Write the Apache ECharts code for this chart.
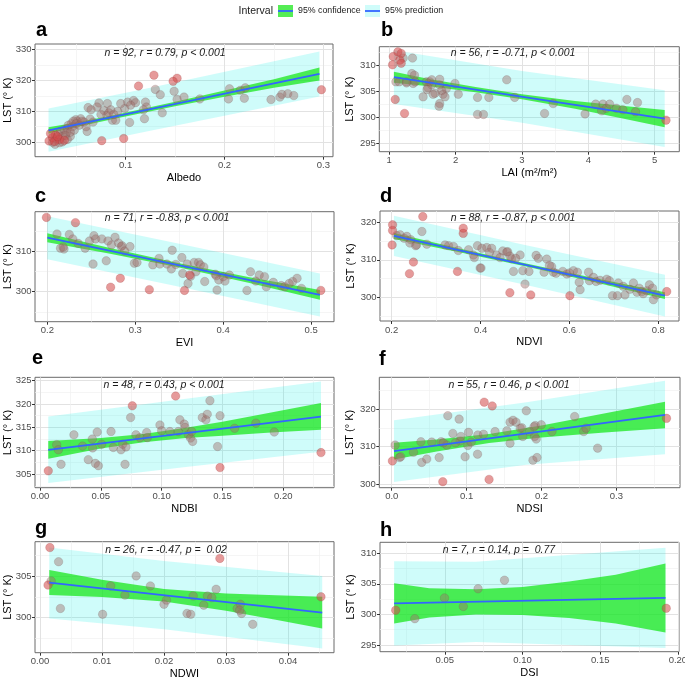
<!DOCTYPE html>
<html><head><meta charset="utf-8">
<script src="https://cdn.jsdelivr.net/npm/echarts@6/dist/echarts.min.js"></script>
<style>html,body{margin:0;padding:0;background:#fff}#c{width:685px;height:679px}</style>
</head><body><div id="c"></div>
<script>
// ---------------- DATA ----------------
// panel a : Albedo
const aGrey = [[0.0286,299.3],[0.036,300.1],[0.041,300.9],[0.044,301.9],[0.048,303.9],[0.041,304.4],[0.045,306.0],[0.051,306.8],[0.0545,307.6],[0.0495,307.3],[0.058,306.5],[0.061,303.5],[0.062,311.2],[0.073,312.7],[0.071,311.4],[0.078,310.3],[0.0815,312.5],[0.081,308.7],[0.085,310.5],[0.0866,307.1],[0.090,307.1],[0.092,310.0],[0.099,310.9],[0.102,313.0],[0.104,306.4],[0.108,313.5],[0.120,313.0],[0.121,311.4],[0.119,307.6],[0.130,317.1],[0.135,315.4],[0.137,309.5],[0.149,316.5],[0.152,313.9],[0.159,314.6],[0.175,314.0],[0.205,317.3],[0.204,314.0],[0.216,316.8],[0.221,317.6],[0.220,314.2],[0.247,313.8],[0.256,314.6],[0.258,315.5],[0.264,315.7],[0.270,315.1],[0.030,301.0],[0.032,302.5],[0.034,303.5],[0.036,302.0],[0.038,304.0],[0.040,303.0],[0.042,305.5],[0.046,305.0],[0.047,306.8],[0.050,306.0],[0.053,305.5],[0.056,306.8],[0.064,307.5],[0.067,306.5],[0.065,310.5],[0.075,309.0],[0.083,309.5],[0.095,312.5],[0.110,312.8],[0.118,310.5],[0.026,300.0],[0.033,299.8],[0.039,302.2],[0.044,303.2],[0.105,312.0],[0.088,309.0],[0.060,305.0]];
const aRed = [[0.0225,300.4],[0.026,301.5],[0.029,302.3],[0.033,300.9],[0.038,300.6],[0.024,302.8],[0.028,300.2],[0.031,301.8],[0.0758,300.5],[0.098,301.2],[0.113,318.2],[0.1286,321.7],[0.152,320.7],[0.148,319.7],[0.298,317.0]];
const aLine = [[0.022,303.8],[0.296,322.1]];
const aConf = [[0.022,302.8,304.8],[0.05,304.9,306.4],[0.09,307.7,308.9],[0.15,311.6,313.1],[0.2,314.7,316.7],[0.25,317.6,320.4],[0.296,320.0,324.2]];
const aPred = [[0.022,296.9,310.9],[0.12,303.4,317.3],[0.296,314.8,329.4]];
const aXTicks = ['0.1','0.2','0.3'];
const aYTicks = ['300','310','320','330'];

// panel b : LAI
const bGrey = [[1.21,311.4],[1.35,311.4],[1.34,308.4],[1.38,308.1],[1.10,306.8],[1.15,306.8],[1.26,306.8],[1.36,306.5],[1.26,306.6],[1.39,306.8],[1.56,306.8],[1.61,306.8],[1.64,307.2],[1.76,307.3],[1.64,306.2],[1.58,305.7],[1.57,305.3],[1.76,306.2],[1.86,305.5],[1.99,306.5],[1.79,305.1],[1.69,304.6],[1.66,304.4],[1.81,304.4],[1.84,303.9],[1.51,303.9],[2.04,304.4],[1.76,302.6],[1.75,302.1],[2.33,303.8],[2.50,303.8],[2.77,307.2],[2.89,303.8],[2.33,300.5],[2.42,300.5],[3.34,300.7],[3.47,302.6],[3.95,300.6],[4.11,302.5],[4.20,301.2],[4.22,302.5],[4.27,301.7],[4.32,302.5],[4.42,301.7],[4.52,301.4],[4.58,303.4],[4.71,301.0],[4.74,302.8]];
const bRed = [[1.06,311.7],[1.05,310.1],[1.13,312.6],[1.18,312.3],[1.16,311.0],[1.18,310.4],[1.09,303.4],[1.23,300.7],[5.17,299.4]];
const bLine = [[1.07,307.7],[5.15,299.7]];
const bConf = [[1.07,306.65,308.75],[1.6,305.96,307.36],[2.3,304.79,305.79],[3.0,303.42,304.42],[3.8,301.6,303.1],[4.5,299.77,302.17],[5.15,298.05,301.35]];
const bPred = [[1.07,302.5,312.9],[3.0,298.9,308.9],[5.15,294.2,305.2]];
const bXTicks = ['1','2','3','4','5'];
const bYTicks = ['295','300','305','310'];

// panel c : EVI
const cGrey = [[0.211,314.2],[0.225,314.1],[0.215,310.7],[0.235,311.9],[0.243,310.7],[0.248,312.5],[0.253,313.8],[0.255,313.0],[0.262,313.0],[0.269,312.5],[0.277,313.4],[0.273,311.5],[0.284,311.1],[0.285,311.3],[0.288,310.0],[0.294,311.1],[0.252,306.8],[0.267,307.6],[0.299,307.0],[0.302,307.2],[0.320,306.6],[0.327,308.2],[0.328,306.8],[0.342,310.2],[0.341,305.6],[0.346,306.7],[0.353,308.4],[0.354,304.5],[0.359,306.8],[0.360,302.0],[0.367,307.2],[0.372,307.2],[0.369,304.9],[0.374,306.6],[0.378,306.1],[0.379,302.5],[0.391,304.3],[0.393,300.4],[0.395,302.9],[0.400,303.7],[0.407,304.1],[0.427,300.3],[0.431,304.9],[0.437,302.6],[0.441,304.1],[0.447,303.7],[0.449,301.2],[0.457,302.3],[0.466,301.5],[0.470,301.2],[0.479,302.5],[0.484,303.3],[0.489,300.8],[0.219,310.5],[0.229,313.0],[0.281,312.0],[0.363,303.8],[0.336,306.8],[0.402,302.6],[0.475,302.0],[0.218,311.0],[0.392,303.9]];
const cRed = [[0.199,318.3],[0.232,317.0],[0.272,301.1],[0.283,303.3],[0.316,300.5],[0.356,300.3],[0.511,300.3],[0.362,304.1]];
const cLine = [[0.2,313.3],[0.51,299.2]];
const cConf = [[0.2,312.2,314.4],[0.27,309.42,310.82],[0.35,305.98,306.98],[0.43,302.14,303.54],[0.51,298.0,300.4]];
const cPred = [[0.2,308.0,318.6],[0.35,301.2,311.8],[0.51,293.9,304.5]];
const cXTicks = ['0.2','0.3','0.4','0.5'];
const cYTicks = ['300','310'];

// panel d : NDVI
const dGrey = [[0.211,316.5],[0.219,316.7],[0.234,316.3],[0.243,315.4],[0.256,314.0],[0.279,314.2],[0.328,313.8],[0.339,313.6],[0.373,312.7],[0.384,311.3],[0.393,313.8],[0.403,313.1],[0.414,313.3],[0.425,313.1],[0.436,311.3],[0.450,312.4],[0.459,312.1],[0.470,310.3],[0.489,311.3],[0.479,310.4],[0.474,306.9],[0.399,307.8],[0.495,307.1],[0.500,303.5],[0.525,311.2],[0.549,310.2],[0.560,308.2],[0.564,306.7],[0.543,306.7],[0.570,306.4],[0.594,306.2],[0.609,307.1],[0.618,306.7],[0.622,304.0],[0.624,302.0],[0.643,306.7],[0.645,304.4],[0.654,305.3],[0.669,304.5],[0.684,304.8],[0.697,300.4],[0.708,300.4],[0.710,303.8],[0.721,302.9],[0.744,303.8],[0.752,301.3],[0.757,302.4],[0.763,301.5],[0.774,301.7],[0.780,303.3],[0.787,302.4],[0.789,299.3],[0.796,300.6],[0.725,300.6],[0.268,317.6],[0.241,314.5],[0.254,313.8],[0.320,314.0],[0.386,310.6],[0.401,307.8],[0.444,310.6],[0.461,312.2],[0.466,311.0],[0.509,306.9],[0.530,310.4],[0.585,306.9],[0.600,306.5],[0.660,304.2],[0.690,304.4],[0.736,302.1],[0.766,300.9],[0.228,315.8],[0.350,312.5],[0.420,312.0],[0.555,308.5]];
const dRed = [[0.202,319.4],[0.202,317.9],[0.201,314.0],[0.270,321.6],[0.361,318.5],[0.361,317.1],[0.249,309.4],[0.240,306.3],[0.348,306.9],[0.466,301.2],[0.513,300.6],[0.601,300.4],[0.819,301.5]];
const dLine = [[0.205,316.4],[0.815,300.4]];
const dConf = [[0.205,315.6,317.2],[0.35,312.1,313.1],[0.5,308.26,309.06],[0.65,304.18,305.28],[0.815,299.5,301.3]];
const dPred = [[0.205,311.0,321.8],[0.5,303.3,314.0],[0.815,294.8,306.0]];
const dXTicks = ['0.2','0.4','0.6','0.8'];
const dYTicks = ['300','310','320'];

// panel e : NDBI
const eGrey = [[0.0137,311.3],[0.0151,310.2],[0.0173,307.1],[0.0279,313.4],[0.035,311.0],[0.0397,308.1],[0.043,312.5],[0.0433,310.6],[0.0455,307.3],[0.047,314.0],[0.048,306.8],[0.0507,311.4],[0.0584,314.1],[0.0603,310.7],[0.0666,310.2],[0.068,311.4],[0.0699,307.1],[0.0707,310.8],[0.0745,317.1],[0.0789,313.4],[0.0822,312.8],[0.0877,313.9],[0.0882,312.8],[0.0986,315.5],[0.1,314.3],[0.1068,314.1],[0.115,316.6],[0.1137,314.1],[0.1186,315.7],[0.1192,315.0],[0.122,313.4],[0.1238,312.7],[0.1255,312.0],[0.1247,314.1],[0.1334,317.1],[0.1364,316.6],[0.1375,317.8],[0.1397,320.7],[0.148,317.5],[0.146,310.9],[0.16,314.8],[0.1775,315.9],[0.1926,314.0]];
const eRed = [[0.0068,305.7],[0.0759,319.6],[0.1115,321.7],[0.148,306.4],[0.231,309.6]];
const eLine = [[0.0068,310.2],[0.231,317.3]];
const eConf = [[0.0068,308.3,312.1],[0.05,310.5,312.7],[0.085,311.8,313.6],[0.12,312.7,314.9],[0.15,313.2,316.2],[0.19,313.9,318.2],[0.231,314.5,320.2]];
const ePred = [[0.0068,303.1,317.3],[0.12,306.5,321.1],[0.231,309.8,324.8]];
const eXTicks = ['0.00','0.05','0.10','0.15','0.20'];
const eYTicks = ['305','310','315','320','325'];

// panel f : NDSI
const fGrey = [[0.0045,310.4],[0.0103,307.1],[0.012,307.3],[0.029,308.5],[0.039,311.3],[0.04,305.8],[0.0468,306.7],[0.0535,311.2],[0.0633,307.1],[0.066,311.3],[0.0736,310.4],[0.0749,318.2],[0.0816,313.5],[0.09,317.3],[0.0914,311.5],[0.0923,312.7],[0.098,307.3],[0.1025,313.8],[0.1016,310.3],[0.1061,311.2],[0.1146,308.0],[0.115,313.1],[0.1226,313.3],[0.138,314.0],[0.1538,314.2],[0.158,310.9],[0.158,316.5],[0.162,317.0],[0.166,316.5],[0.1716,314.9],[0.175,312.7],[0.1797,319.5],[0.184,314.0],[0.1886,306.4],[0.1917,315.6],[0.1908,312.7],[0.193,312.0],[0.194,307.1],[0.1997,315.8],[0.214,314.0],[0.2443,318.0],[0.2564,314.0],[0.2595,314.9],[0.275,309.6],[0.1739,315.0],[0.0688,311.0],[0.085,311.0],[0.19,315.3]];
const fRed = [[0.0009,306.2],[0.0682,300.7],[0.1235,321.8],[0.1342,320.8],[0.130,301.3],[0.367,317.5]];
const fLine = [[0.003,308.8],[0.365,318.4]];
const fConf = [[0.003,306.6,311.0],[0.06,308.74,311.88],[0.13,310.97,313.37],[0.2,312.45,315.59],[0.28,313.66,318.64],[0.365,314.9,321.9]];
const fPred = [[0.003,300.6,317.0],[0.18,305.2,321.8],[0.365,308.0,327.5]];
const fXTicks = ['0.0','0.1','0.2','0.3'];
const fYTicks = ['300','310','320'];

// panel g : NDWI
const gGrey = [[0.0018,304.4],[0.003,306.7],[0.0033,301.1],[0.0101,300.4],[0.0114,303.8],[0.0137,302.7],[0.0155,305.0],[0.0178,303.8],[0.02,301.6],[0.0204,302.1],[0.0237,300.5],[0.0243,300.4],[0.0247,302.6],[0.0264,301.5],[0.027,302.6],[0.0277,302.4],[0.0284,303.4],[0.0318,301.1],[0.0323,301.6],[0.0325,300.5],[0.0343,299.2],[0.0322,300.9]];
const gRed = [[0.0016,308.4],[0.0013,303.9],[0.029,307.1],[0.0453,302.5]];
const gLine = [[0.0015,304.2],[0.0455,300.6]];
const gConf = [[0.0015,302.7,305.7],[0.01,302.47,304.53],[0.02,301.94,303.44],[0.03,300.84,302.9],[0.038,299.74,302.68],[0.0455,298.7,302.5]];
const gPred = [[0.0015,299.9,308.4],[0.02,298.6,306.8],[0.0455,296.3,305.0]];
const gXTicks = ['0.00','0.01','0.02','0.03','0.04'];
const gYTicks = ['300','305'];

// panel h : DSI
const hGrey = [[0.0307,299.3],[0.0498,302.7],[0.0619,301.3],[0.0714,304.2],[0.0884,305.6]];
const hRed = [[0.0184,300.7],[0.1925,301.0]];
const hLine = [[0.0174,301.8],[0.192,302.7]];
const hConf = [[0.0174,298.5,305.1],[0.04,299.5,304.3],[0.07,300.0,304.1],[0.1,299.9,304.5],[0.13,299.4,305.4],[0.16,298.5,306.5],[0.192,297.05,308.35]];
const hPred = [[0.0174,294.9,308.7],[0.07,295.5,308.6],[0.192,294.5,310.9]];
const hXTicks = ['0.05','0.10','0.15','0.20'];
const hYTicks = ['295','300','305','310'];

const panelLetters = ['a','b','c','d','e','f','g','h'];
const xTitles = ['Albedo','LAI (m²/m²)','EVI','NDVI','NDBI','NDSI','NDWI','DSI'];
const yTitle = 'LST (° K)';
const statTexts = ['n = 92, r = 0.79, p < 0.001','n = 56, r = -0.71, p < 0.001','n = 71, r = -0.83, p < 0.001','n = 88, r = -0.87, p < 0.001','n = 48, r = 0.43, p < 0.001','n = 55, r = 0.46, p < 0.001','n = 26, r = -0.47, p =  0.02','n = 7, r = 0.14, p =  0.77'];
const legendTitle = 'Interval';
const confName = '95% confidence';
const predName = '95% prediction';

// ---------------- LAYOUT / STYLE ----------------
const FONT = '"Liberation Sans", Arial, Helvetica, sans-serif';
const PRED = 'rgba(0,240,230,0.19)';
const CONF = 'rgba(20,230,20,0.72)';
const BLUE = '#3366ff';
const GREYPT = 'rgba(160,110,105,0.55)';
const REDPT = 'rgba(210,75,75,0.7)';

const panels = [
  {grey:aGrey, red:aRed, line:aLine, conf:aConf, pred:aPred, xt:aXTicks, yt:aYTicks},
  {grey:bGrey, red:bRed, line:bLine, conf:bConf, pred:bPred, xt:bXTicks, yt:bYTicks},
  {grey:cGrey, red:cRed, line:cLine, conf:cConf, pred:cPred, xt:cXTicks, yt:cYTicks},
  {grey:dGrey, red:dRed, line:dLine, conf:dConf, pred:dPred, xt:dXTicks, yt:dYTicks},
  {grey:eGrey, red:eRed, line:eLine, conf:eConf, pred:ePred, xt:eXTicks, yt:eYTicks},
  {grey:fGrey, red:fRed, line:fLine, conf:fConf, pred:fPred, xt:fXTicks, yt:fYTicks},
  {grey:gGrey, red:gRed, line:gLine, conf:gConf, pred:gPred, xt:gXTicks, yt:gYTicks},
  {grey:hGrey, red:hRed, line:hLine, conf:hConf, pred:hPred, xt:hXTicks, yt:hYTicks}
];
// grid: left, top, width, height ; axis ranges ; letter (x, y-mid) ; stat (x-center, y-mid) ; y name gap
const layout = [
  {g:[35,44,298,112.7],   x:[0.0083,0.3097], y:[295.3,331.8], L:[36,30.7],  S:[165,53],  yg:22},
  {g:[379.3,46.7,300,105],x:[0.85,5.37],     y:[293.3,313.6], L:[381,30.7], S:[513,53],  yg:24},
  {g:[35,211.7,299,110],  x:[0.186,0.526],   y:[292.6,319.7], L:[35,196.3], S:[167,218], yg:22},
  {g:[380,211,299,110],   x:[0.1737,0.8466], y:[293.6,323.1], L:[380,196.3],S:[513,218], yg:24},
  {g:[35,377.3,299,110.4],x:[-0.0041,0.2417],y:[302.1,325.7], L:[32,358.5], S:[164,385], yg:22},
  {g:[379.3,377.3,300.7,110.4],x:[-0.0166,0.385],y:[299.1,328.4], L:[379,359.5],S:[509,385], yg:24},
  {g:[35,541.7,299,111],  x:[-0.0008,0.0474],y:[295.8,309.1], L:[35,528.7], S:[166,550], yg:22},
  {g:[380,542.3,299,109.4],x:[0.0083,0.2007],y:[293.9,311.8], L:[380,530.7],S:[499,550], yg:24}
];

function minorVals(nums, range) {
  const step = nums[1] - nums[0];
  const out = [];
  let v = nums[0] - step / 2;
  while (v - step > range[0]) v -= step;
  for (; v <= range[1] + 1e-12; v += step) {
    const r = Math.round(v * 1e9) / 1e9;
    if (r >= range[0] && r <= range[1]) out.push(r);
  }
  return out;
}
function makeFmt(nums, labs) {
  return function (v) {
    const k = nums.findIndex(n => Math.abs(n - v) < 1e-9);
    return k < 0 ? '' : labs[k];
  };
}
function bandRenderer(rows) {
  return function (params, api) {
    if (params.dataIndex !== 0) return null;
    const pts = [];
    for (let k = 0; k < rows.length; k++) pts.push(api.coord([rows[k][0], rows[k][2]]));
    for (let k = rows.length - 1; k >= 0; k--) pts.push(api.coord([rows[k][0], rows[k][1]]));
    return {type: 'polygon', shape: {points: pts}, style: {fill: api.visual('color')}};
  };
}

const grids = [], xAxes = [], yAxes = [], series = [], graphics = [];
panels.forEach(function (p, i) {
  const Lo = layout[i];
  grids.push({left: Lo.g[0], top: Lo.g[1], width: Lo.g[2], height: Lo.g[3], show: true,
    borderColor: '#6a6a6a', borderWidth: 1, backgroundColor: 'rgba(0,0,0,0)',
    containLabel: false, outerBoundsMode: 'none'});
  const xn = p.xt.map(Number), yn = p.yt.map(Number);
  const common = function (dim, range, nums, labs, name, gap) {
    return {
      type: 'value', gridIndex: i, min: range[0], max: range[1], scale: true,
      position: dim === 'x' ? 'bottom' : 'left',
      axisLine: {show: false, onZero: false},
      axisTick: {show: true, customValues: nums, length: 3, inside: false, lineStyle: {color: '#333', width: 1}},
      axisLabel: {show: true, customValues: nums, formatter: makeFmt(nums, labs), color: '#4d4d4d',
        fontSize: 9.5, fontFamily: FONT, margin: dim === 'x' ? 4 : 3.5, hideOverlap: false},
      splitLine: {show: true, lineStyle: {color: '#e2e2e2', width: 1}},
      minorTick: {show: false}, minorSplitLine: {show: false},
      name: name, nameLocation: 'middle', nameGap: gap, nameRotate: dim === 'y' ? 90 : 0,
      nameTextStyle: {color: '#000', fontSize: 11, fontFamily: FONT},
      nameMoveOverlap: false
    };
  };
  const minor = function (dim, range, nums) {
    return {
      type: 'value', gridIndex: i, min: range[0], max: range[1], scale: true,
      position: dim === 'x' ? 'top' : 'right',
      axisLine: {show: false, onZero: false},
      axisTick: {show: false, customValues: minorVals(nums, range)},
      axisLabel: {show: false},
      splitLine: {show: true, lineStyle: {color: '#f0f0f0', width: 0.7}}
    };
  };
  xAxes.push(common('x', Lo.x, xn, p.xt, xTitles[i], 15.5));
  xAxes.push(minor('x', Lo.x, xn));
  yAxes.push(common('y', Lo.y, yn, p.yt, yTitle, Lo.yg));
  yAxes.push(minor('y', Lo.y, yn));

  const ax = {xAxisIndex: 2 * i, yAxisIndex: 2 * i};
  series.push(Object.assign({type: 'custom', name: predName, data: p.pred, dimensions: ['x', 'lo', 'hi'],
    encode: {x: 0, y: [1, 2]}, renderItem: bandRenderer(p.pred), itemStyle: {color: PRED}, z: 1, silent: true}, ax));
  series.push(Object.assign({type: 'custom', name: confName, data: p.conf, dimensions: ['x', 'lo', 'hi'],
    encode: {x: 0, y: [1, 2]}, renderItem: bandRenderer(p.conf), itemStyle: {color: CONF}, z: 2, silent: true}, ax));
  series.push(Object.assign({type: 'scatter', data: p.grey, symbolSize: 8.5,
    itemStyle: {color: GREYPT, borderColor: 'rgba(110,80,80,0.4)', borderWidth: 0.6}, z: 3, silent: true}, ax));
  series.push(Object.assign({type: 'scatter', data: p.red, symbolSize: 8.5,
    itemStyle: {color: REDPT, borderColor: 'rgba(150,50,50,0.45)', borderWidth: 0.6}, z: 3, silent: true}, ax));
  series.push(Object.assign({type: 'line', data: p.line, showSymbol: false, symbol: 'none',
    lineStyle: {color: BLUE, width: 1.8}, z: 4, silent: true}, ax));

  graphics.push({type: 'text', x: Lo.L[0], y: Lo.L[1], z: 100,
    style: {text: panelLetters[i], fill: '#000', font: 'bold 20px ' + FONT,
      align: 'left', verticalAlign: 'middle', textAlign: 'left', textVerticalAlign: 'middle'}});
  graphics.push({type: 'text', x: Lo.S[0], y: Lo.S[1], z: 100,
    style: {text: statTexts[i], fill: '#1a1a1a', font: 'italic 10.5px ' + FONT,
      align: 'center', verticalAlign: 'middle', textAlign: 'center', textVerticalAlign: 'middle'}});
});

// legend decorations
graphics.push({type: 'text', x: 273, y: 11, z: 100,
  style: {text: legendTitle, fill: '#1a1a1a', font: '10.5px ' + FONT,
    align: 'right', verticalAlign: 'middle', textAlign: 'right', textVerticalAlign: 'middle'}});
graphics.push({type: 'line', z: 100, shape: {x1: 278, y1: 11, x2: 293, y2: 11}, style: {stroke: BLUE, lineWidth: 1.8}});
graphics.push({type: 'line', z: 100, shape: {x1: 365, y1: 11, x2: 380, y2: 11}, style: {stroke: BLUE, lineWidth: 1.8}});

const legendBase = {top: 5, padding: 0, itemWidth: 15, itemHeight: 12, itemGap: 0, selectedMode: false,
  textStyle: {fontSize: 8.8, color: '#1a1a1a', fontFamily: FONT}, z: 50};

const option = {
  animation: false,
  backgroundColor: '#ffffff',
  textStyle: {fontFamily: FONT},
  legend: [
    Object.assign({left: 278, data: [{name: confName, icon: 'rect'}]}, legendBase),
    Object.assign({left: 365, data: [{name: predName, icon: 'rect'}]}, legendBase)
  ],
  grid: grids,
  xAxis: xAxes,
  yAxis: yAxes,
  series: series,
  graphic: graphics
};
const chart = echarts.init(document.getElementById('c'), null, {renderer: 'canvas'});
chart.setOption(option);
</script>
</body></html>
